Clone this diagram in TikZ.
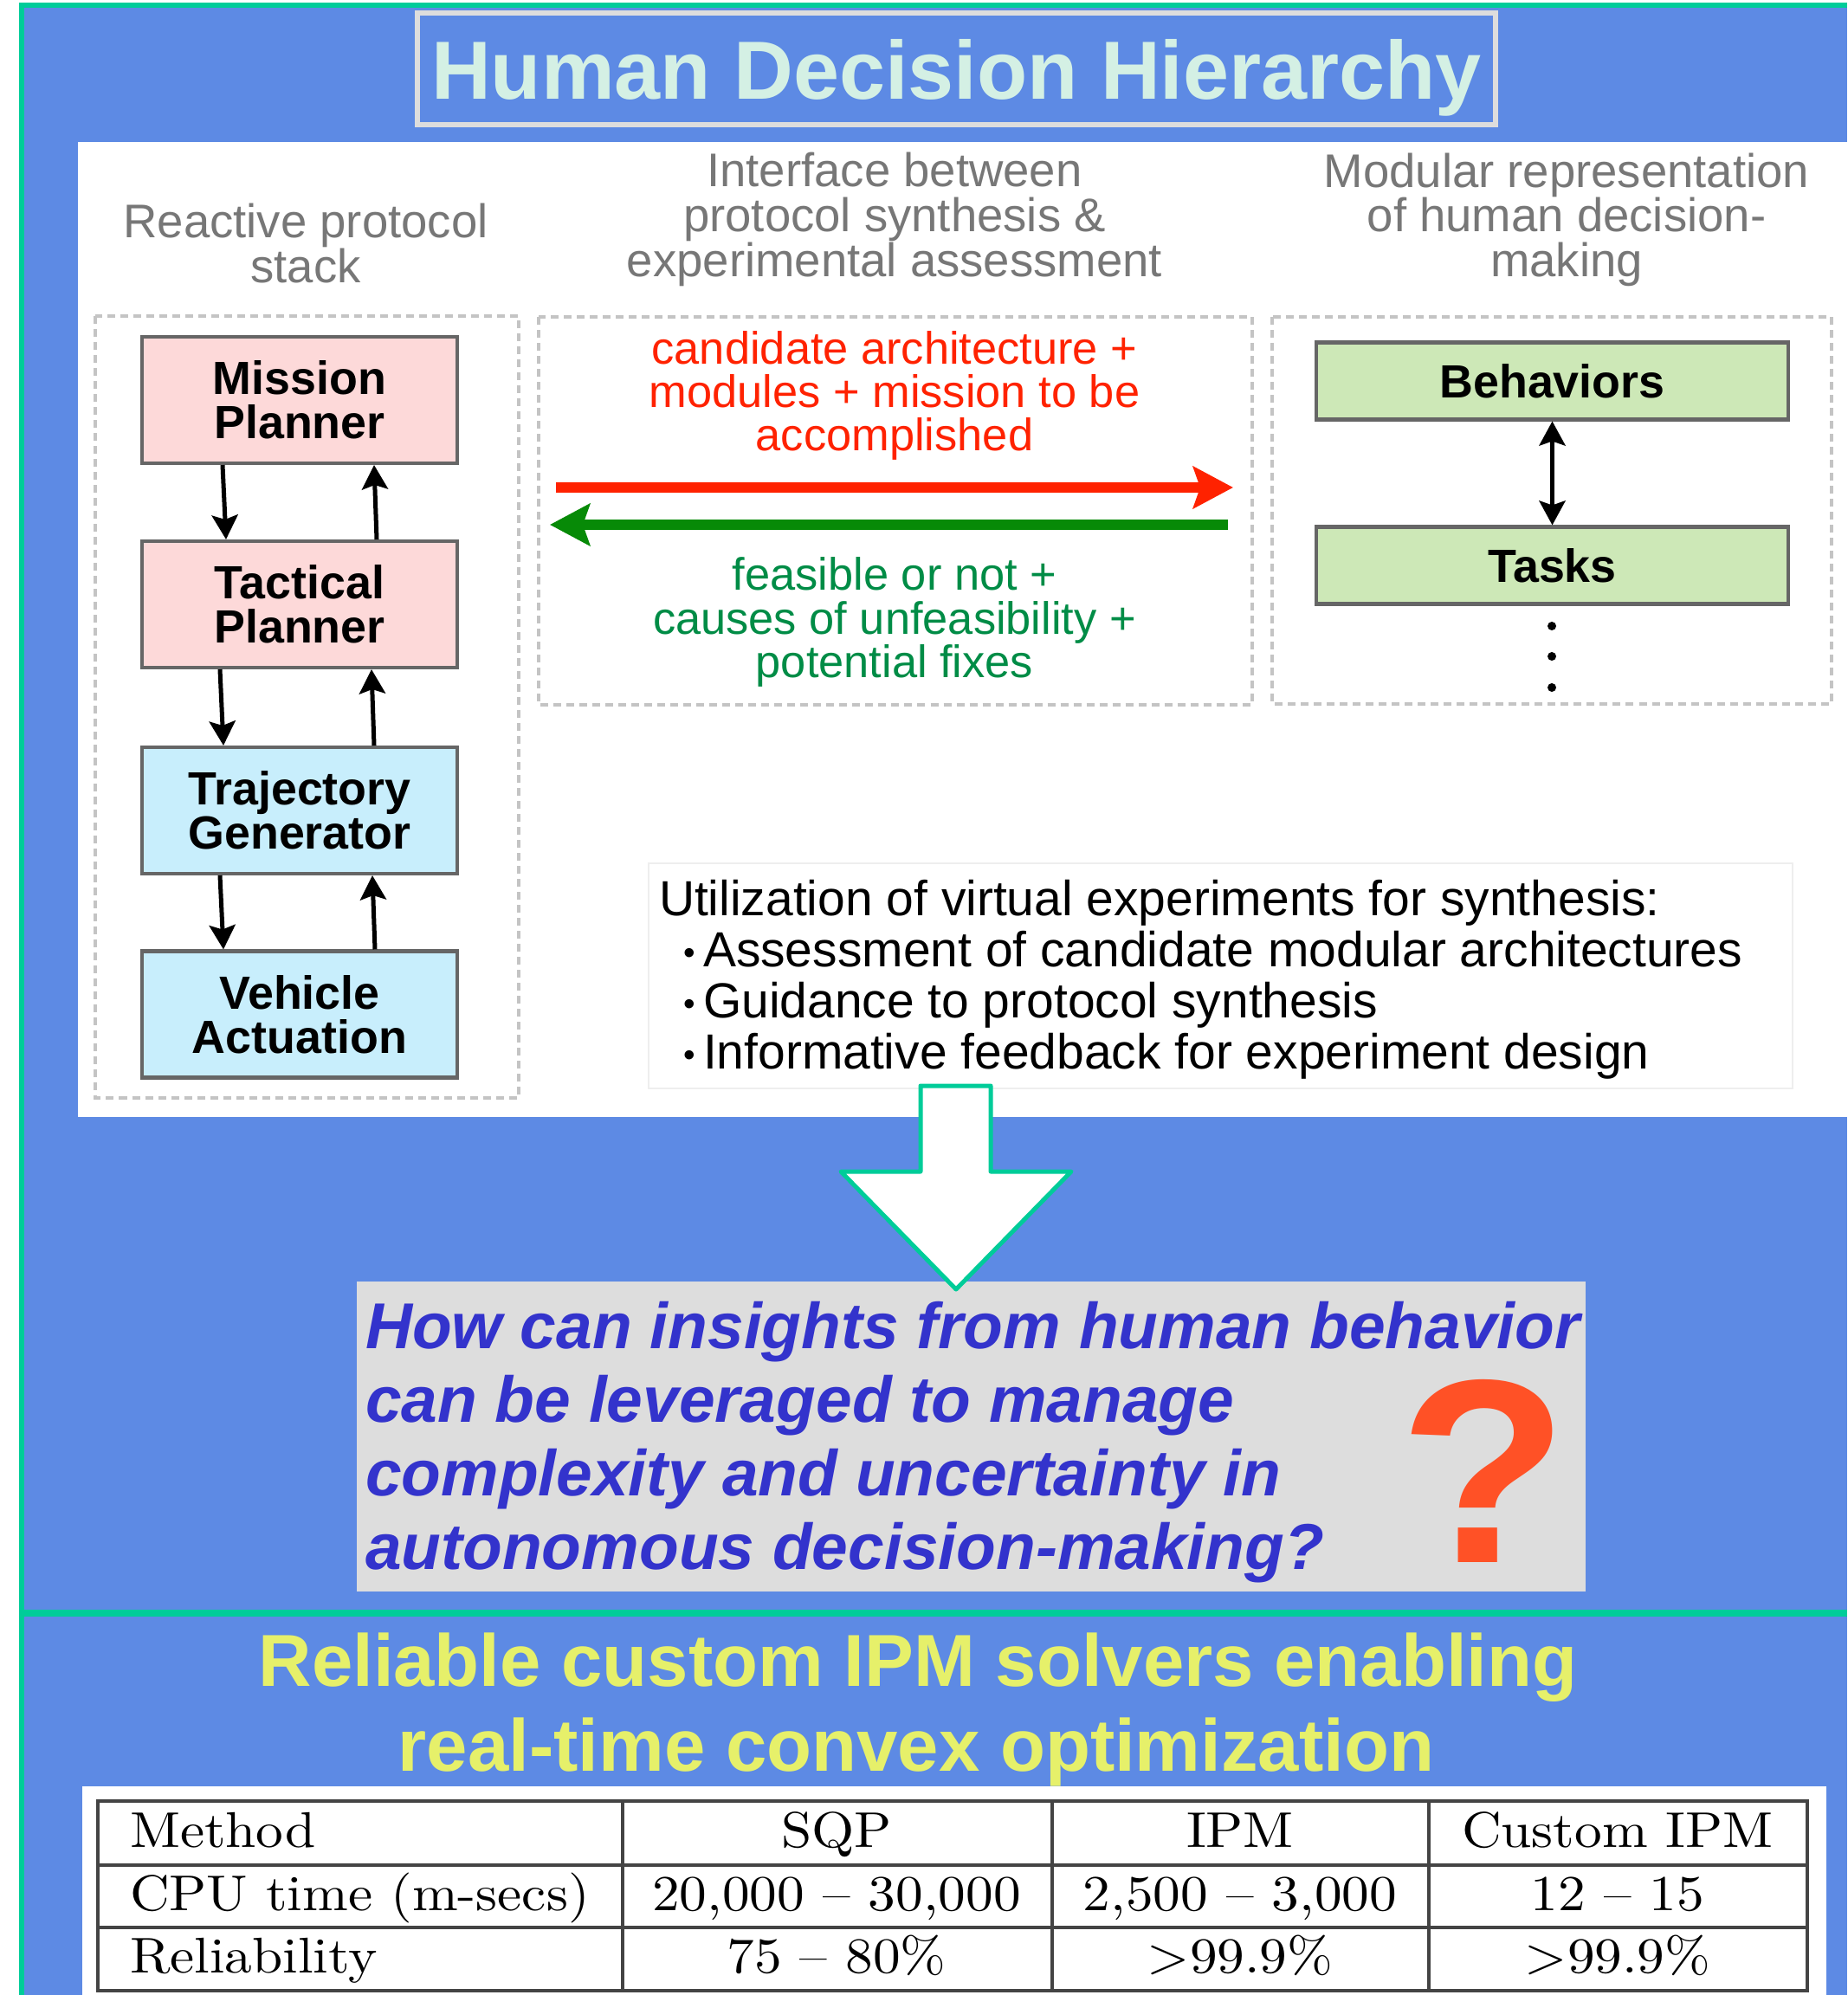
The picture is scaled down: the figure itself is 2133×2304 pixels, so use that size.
\documentclass[tikz,border=0pt]{standalone}
\usepackage{fontspec}
\newfontfamily\arial{Liberation Sans}
\usetikzlibrary{arrows.meta,calc}
\definecolor{bgblue}{HTML}{5D8AE4}
\definecolor{bordergreen}{HTML}{00CC99}
\definecolor{titlemint}{HTML}{D4F0E4}
\definecolor{titlegray}{HTML}{DDDDDD}
\definecolor{hdrgray}{HTML}{777777}
\definecolor{dashgray}{HTML}{C4C4C4}
\definecolor{pinkfill}{HTML}{FDD9D9}
\definecolor{cyanfill}{HTML}{C8EEFC}
\definecolor{greenfill}{HTML}{CDE8B7}
\definecolor{boxedge}{HTML}{666666}
\definecolor{redtxt}{HTML}{FF2200}
\definecolor{greentxt}{HTML}{008C46}
\definecolor{greenarrow}{HTML}{078A07}
\definecolor{qblue}{HTML}{3333CC}
\definecolor{qgray}{HTML}{DDDDDD}
\definecolor{qorange}{HTML}{FF5126}
\definecolor{ylw}{HTML}{E6F06A}
\definecolor{listedge}{HTML}{EEEEEE}
\definecolor{tabline}{HTML}{444444}
\newcommand{\tbx}[1]{\scalebox{1.8}[1.65]{\fontsize{10}{12}\selectfont #1}}
\begin{document}
\begin{tikzpicture}[x=0.01cm,y=-0.01cm,
  txt/.style={inner sep=0pt, outer sep=0pt, anchor=base},
  hdr/.style={txt, text=hdrgray, font=\arial\fontsize{15.5}{15}\selectfont},
  redline/.style={txt, text=redtxt, font=\arial\fontsize{14.9}{14}\selectfont},
  grnline/.style={txt, text=greentxt, font=\arial\fontsize{14.9}{14}\selectfont},
  blk/.style={draw=boxedge, line width=0.045cm, align=center, inner sep=0pt,
    font=\arial\bfseries\fontsize{15.3}{14.5}\selectfont, text=black,
    minimum width=3.635cm, minimum height=1.455cm},
  gblk/.style={blk, fill=greenfill, minimum width=5.45cm, minimum height=0.885cm},
  dashbox/.style={draw=dashgray, line width=0.04cm, dash pattern=on 0.09cm off 0.06cm},
  flow/.style={-{Stealth[length=0.28cm,width=0.3cm,inset=0.05cm]}, line width=0.05cm, black},
  dflow/.style={{Stealth[length=0.28cm,width=0.3cm,inset=0.05cm]}-{Stealth[length=0.28cm,width=0.3cm,inset=0.05cm]}, line width=0.05cm, black},
  bigred/.style={-{Stealth[length=0.46cm,width=0.48cm,inset=0.08cm]}, line width=0.12cm, redtxt},
  biggreen/.style={-{Stealth[length=0.46cm,width=0.48cm,inset=0.08cm]}, line width=0.12cm, greenarrow},
  vdot/.style={circle, fill=black, inner sep=0pt, minimum size=0.1cm},
  listline/.style={inner sep=0pt, outer sep=0pt, anchor=base west, text=black, font=\arial\fontsize{16.2}{17}\selectfont},
  qline/.style={inner sep=0pt, outer sep=0pt, anchor=base west, text=qblue, font=\arial\bfseries\itshape\fontsize{21.3}{24}\selectfont},
  yline/.style={txt, text=ylw, font=\arial\bfseries\fontsize{24.2}{27}\selectfont},
  tcell/.style={txt, text=black}
]
\useasboundingbox (0,0) rectangle (2133,2304);
\fill[white] (0,0) rectangle (2133,2304);
% panels
\fill[bgblue] (22,4) rectangle (2133,2304);
\fill[white] (90,164) rectangle (2133,1290);
\draw[bordergreen, line width=0.06cm] (25,2304) -- (25,6.5) -- (2133,6.5);
\draw[bordergreen, line width=0.08cm] (22,1863) -- (2133,1863);

% title
\node[draw=titlegray, line width=0.06cm, fill=bgblue, minimum width=12.45cm, minimum height=1.29cm,
  inner sep=0pt, text height=0.70cm, text depth=0pt, text=titlemint,
  font=\arial\bfseries\fontsize{27.1}{30}\selectfont] (title) at (1104.5,79.5) {Human Decision Hierarchy};

% column headers
\node[hdr] (h1a) at (353,275) {Reactive protocol};
\node[hdr] (h1b) at (353,327) {stack};
\node[hdr] (h2a) at (1033,216) {Interface between};
\node[hdr] (h2b) at (1033,268) {protocol synthesis \&};
\node[hdr] (h2c) at (1033,320) {experimental assessment};
\node[hdr] (h3a) at (1809,217) {Modular representation};
\node[hdr] (h3b) at (1809,268) {of human decision-};
\node[hdr] (h3c) at (1809,320) {making};

% dashed frames
\draw[dashbox] (110,365) rectangle (599,1268);
\draw[dashbox] (622,366) rectangle (1446,814);
\draw[dashbox] (1469,366) rectangle (2115,813);

% protocol stack
\node[blk, fill=pinkfill] (mp) at (346,462) {Mission\\Planner};
\node[blk, fill=pinkfill] (tp) at (346,698) {Tactical\\Planner};
\node[blk, fill=cyanfill] (tg) at (346,936) {Trajectory\\Generator};
\node[blk, fill=cyanfill] (va) at (346,1171.5) {Vehicle\\Actuation};

\draw[flow] ($(mp.south)+(-89,0)$) -- ($(tp.north)+(-85,0)$);
\draw[flow] ($(tp.north)+(89,0)$) -- ($(mp.south)+(86,0)$);
\draw[flow] ($(tp.south)+(-92,0)$) -- ($(tg.north)+(-88,0)$);
\draw[flow] ($(tg.north)+(86,0)$) -- ($(tp.south)+(83,0)$);
\draw[flow] ($(tg.south)+(-92,0)$) -- ($(va.north)+(-88,0)$);
\draw[flow] ($(va.north)+(87,0)$) -- ($(tg.south)+(84,0)$);

% interface
\node[redline] (r1) at (1033,421) {candidate architecture +};
\node[redline] (r2) at (1033,471) {modules + mission to be};
\node[redline] (r3) at (1033,521) {accomplished};
\coordinate (ra1) at (642,563);
\coordinate (ra2) at (1424,563);
\draw[bigred] (ra1) -- (ra2);
\coordinate (ga1) at (1418,606);
\coordinate (ga2) at (635,606);
\draw[biggreen] (ga1) -- (ga2);
\node[grnline] (g1) at (1033,682) {feasible or not +};
\node[grnline] (g2) at (1033,732) {causes of unfeasibility +};
\node[grnline] (g3) at (1033,782) {potential fixes};

% human decision-making
\node[gblk] (beh) at (1792.5,440) {Behaviors};
\node[gblk] (tas) at (1792.5,653) {Tasks};
\draw[dflow] (beh.south) -- (tas.north);
\node[vdot] (d1) at (1792,723) {};
\node[vdot] (d2) at (1792,758) {};
\node[vdot] (d3) at (1792,794) {};

% list box
\draw[draw=listedge, fill=white, line width=0.02cm] (749,997) rectangle (2070,1257);
\node[listline] (l0) at (761,1057) {Utilization of virtual experiments for synthesis:};
\node[listline] (b1) at (789,1116) {\raisebox{0.05em}{\fontsize{11}{11}\selectfont•}};
\node[listline] (l1) at (812,1116) {Assessment of candidate modular architectures};
\node[listline] (b2) at (789,1175) {\raisebox{0.05em}{\fontsize{11}{11}\selectfont•}};
\node[listline] (l2) at (812,1175) {Guidance to protocol synthesis};
\node[listline] (b3) at (789,1234) {\raisebox{0.05em}{\fontsize{11}{11}\selectfont•}};
\node[listline] (l3) at (812,1234) {Informative feedback for experiment design};

% question box
\fill[qgray] (412,1480) rectangle (1831,1838);
\node[qline] (q1) at (422,1557) {How can insights from human behavior};
\node[qline] (q2) at (422,1642) {can be leveraged to manage};
\node[qline] (q3) at (422,1727) {complexity and uncertainty in};
\node[qline] (q4) at (422,1812) {autonomous decision-making?};
\node[txt, text=qorange, font=\arial\bfseries\fontsize{86}{86}\selectfont] (qm) at (1713,1804) {\scalebox{1.06}[1]{?}};

% big down arrow
\draw[fill=white, draw=bordergreen, line width=0.05cm, line join=round]
  (1063,1254) -- (1144,1254) -- (1144,1353) -- (1237,1353) -- (1104,1489)
  -- (971,1353) -- (1063,1353) -- cycle;

% bottom section
\node[yline] (y1) at (1060,1947) {Reliable custom IPM solvers enabling};
\node[yline] (y2) at (1058,2045) {real-time convex optimization};

\fill[white] (95,2063) rectangle (2109,2304);
\draw[tabline, line width=0.045cm] (113,2080) rectangle (2087,2299);
\draw[tabline, line width=0.035cm] (113,2154) -- (2087,2154);
\draw[tabline, line width=0.035cm] (113,2226) -- (2087,2226);
\draw[tabline, line width=0.035cm] (719,2080) -- (719,2299);
\draw[tabline, line width=0.035cm] (1215,2080) -- (1215,2299);
\draw[tabline, line width=0.035cm] (1650,2080) -- (1650,2299);

\node[tcell, anchor=base west] (t11) at (150,2133) {\tbx{Method}};
\node[tcell] (t12) at (966,2133) {\tbx{SQP}};
\node[tcell] (t13) at (1432,2133) {\tbx{IPM}};
\node[tcell] (t14) at (1868,2133) {\tbx{Custom IPM}};
\node[tcell, anchor=base west] (t21) at (150,2206) {\tbx{CPU time (m-secs)}};
\node[tcell] (t22) at (966,2206) {\tbx{20,000 -- 30,000}};
\node[tcell] (t23) at (1432,2206) {\tbx{2,500 -- 3,000}};
\node[tcell] (t24) at (1868,2206) {\tbx{12 -- 15}};
\node[tcell, anchor=base west] (t31) at (150,2278) {\tbx{Reliability}};
\node[tcell] (t32) at (966,2278) {\tbx{75 -- 80\%}};
\node[tcell] (t33) at (1432,2278) {\tbx{>99.9\%}};
\node[tcell] (t34) at (1868,2278) {\tbx{>99.9\%}};
\end{tikzpicture}
\end{document}
